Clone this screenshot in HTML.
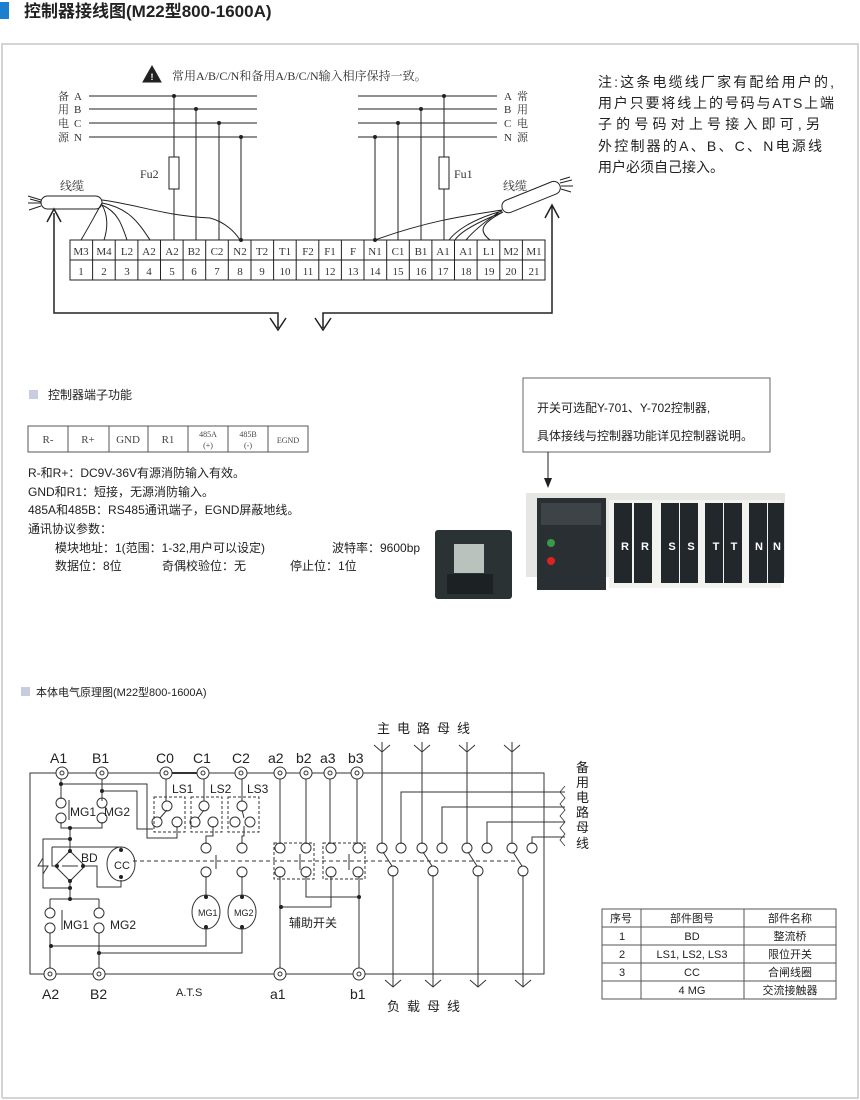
<!DOCTYPE html>
<html><head><meta charset="utf-8"><style>
body{margin:0;background:#fff}
svg{display:block}
.cn{font-family:"Liberation Sans","Noto Sans CJK SC",sans-serif}
.sf{font-family:"Liberation Serif","Noto Serif CJK SC",serif}
</style></head><body>
<svg width="860" height="1100" viewBox="0 0 860 1100" xmlns="http://www.w3.org/2000/svg" class="cn">
<!-- header -->
<rect x="0" y="2" width="9" height="17" fill="#1a7fd0"/>
<text x="24" y="17" font-size="17" font-weight="bold" fill="#222">控制器接线图(M22型800-1600A)</text>
<path d="M2 1098V44H858V1098H2" fill="none" stroke="#d4d4d4" stroke-width="2"/>

<g stroke="#222" stroke-width="1" fill="none">
<path d="M152 66L161 82H143Z" fill="#222"/>
<path d="M89 96H257M89 109H257M89 123H257M89 137H257M358 96H497M358 109H497M358 123H497M358 137H497"/>
<path d="M174 96V240M196 109V240M219 123V240M241 137V240"/>
<rect x="169" y="157" width="10" height="32" fill="#fff"/>
<path d="M375 137V240M398 123V240M421 109V240M444 96V240"/>
<rect x="439" y="157" width="10" height="32" fill="#fff"/>
<rect x="70" y="240" width="475" height="40"/>
<path d="M70 260H545"/>
<path d="M92.6 240V280M115.2 240V280M137.9 240V280M160.5 240V280M183.1 240V280M205.7 240V280M228.3 240V280M251 240V280M273.6 240V280M296.2 240V280M318.8 240V280M341.4 240V280M364 240V280M386.7 240V280M409.3 240V280M431.9 240V280M454.5 240V280M477.1 240V280M499.8 240V280M522.4 240V280"/>
<rect x="41" y="196" width="61" height="13" rx="6.5"/>
<path d="M41 200L28 196M41 203L28 203M41 206L29 210M41 202L30 199"/>
<path d="M102 203C95 215 90 225 81 240M102 205C108 215 108 228 104 240M102 205C118 212 122 225 127 240M102 203C130 208 140 225 150 240M102 200C140 205 160 215 210 218C225 222 235 232 240 240"/>
<g transform="rotate(-22 530 197)"><rect x="500" y="191" width="62" height="13" rx="6.5"/></g>
<path d="M560 183L572 180M561 186L573 186M561 189L571 192M560 180L570 177"/>
<path d="M502 210C470 215 430 220 375 240M502 210C490 218 476 228 466 240M503 212C478 222 460 232 455 240M503 212C478 225 480 232 490 240M502 211C470 220 455 232 449 240"/>
<path d="M54 213V313H278V328M270 318L278 330L286 318M47 222L54 209L61 222" stroke-width="1.5"/>
<path d="M552 205V313H323V328M315 318L323 330L331 318M545 218L552 205L559 218" stroke-width="1.5"/>
</g>
<g fill="#222">
<circle cx="174" cy="96" r="2"/><circle cx="196" cy="109" r="2"/><circle cx="219" cy="123" r="2"/><circle cx="241" cy="137" r="2"/>
<circle cx="375" cy="137" r="2"/><circle cx="398" cy="123" r="2"/><circle cx="421" cy="109" r="2"/><circle cx="444" cy="96" r="2"/>
<circle cx="241" cy="240" r="2"/><circle cx="375" cy="240" r="2"/>
</g>
<text x="152" y="80" font-size="9" fill="#fff" font-weight="bold" text-anchor="middle">!</text>
<text x="172" y="80" font-size="12" fill="#333" class="sf">常用A/B/C/N和备用A/B/C/N输入相序保持一致。</text>
<g font-size="11" fill="#333" class="sf">
<text x="58" y="100">备</text><text x="58" y="113">用</text><text x="58" y="127">电</text><text x="58" y="141">源</text>
<text x="74" y="100">A</text><text x="74" y="113">B</text><text x="74" y="127">C</text><text x="74" y="141">N</text>
<text x="504" y="100">A</text><text x="504" y="113">B</text><text x="504" y="127">C</text><text x="504" y="141">N</text>
<text x="517" y="100">常</text><text x="517" y="113">用</text><text x="517" y="127">电</text><text x="517" y="141">源</text>
<text x="140" y="178" font-size="12">Fu2</text><text x="454" y="178" font-size="12">Fu1</text>
<text x="60" y="190" font-size="12">线缆</text><text x="503" y="190" font-size="12">线缆</text>
</g>
<g font-size="11" fill="#333" class="sf" text-anchor="middle">
<text x="81" y="255">M3</text><text x="104" y="255">M4</text><text x="127" y="255">L2</text><text x="149" y="255">A2</text><text x="172" y="255">A2</text><text x="194" y="255">B2</text><text x="217" y="255">C2</text><text x="240" y="255">N2</text><text x="262" y="255">T2</text><text x="285" y="255">T1</text><text x="308" y="255">F2</text><text x="330" y="255">F1</text><text x="353" y="255">F</text><text x="375" y="255">N1</text><text x="398" y="255">C1</text><text x="421" y="255">B1</text><text x="443" y="255">A1</text><text x="466" y="255">A1</text><text x="489" y="255">L1</text><text x="511" y="255">M2</text><text x="534" y="255">M1</text>
<text x="81" y="275">1</text><text x="104" y="275">2</text><text x="127" y="275">3</text><text x="149" y="275">4</text><text x="172" y="275">5</text><text x="194" y="275">6</text><text x="217" y="275">7</text><text x="240" y="275">8</text><text x="262" y="275">9</text><text x="285" y="275">10</text><text x="308" y="275">11</text><text x="330" y="275">12</text><text x="353" y="275">13</text><text x="375" y="275">14</text><text x="398" y="275">15</text><text x="421" y="275">16</text><text x="443" y="275">17</text><text x="466" y="275">18</text><text x="489" y="275">19</text><text x="511" y="275">20</text><text x="534" y="275">21</text>
</g>
<g font-size="14" fill="#222">
<text x="598" y="87" textLength="236">注:这条电缆线厂家有配给用户的,</text>
<text x="598" y="108" textLength="236">用户只要将线上的号码与ATS上端</text>
<text x="598" y="129" textLength="222">子的号码对上号接入即可,另</text>
<text x="598" y="151" textLength="224">外控制器的A、B、C、N电源线</text>
<text x="598" y="172">用户必须自己接入。</text>
</g>

<!-- section 2 -->
<rect x="29" y="390" width="9" height="9" fill="#c8cce0"/>
<text x="48" y="399" font-size="12" fill="#222">控制器端子功能</text>
<g stroke="#555" fill="none"><rect x="28" y="426" width="280" height="26"/>
<path d="M68 426V452M109 426V452M148 426V452M188 426V452M228 426V452M268 426V452"/></g>
<g class="sf" fill="#444" text-anchor="middle" font-size="11">
<text x="48" y="443">R-</text><text x="88" y="443">R+</text><text x="128" y="443">GND</text><text x="168" y="443">R1</text>
<text x="208" y="437" font-size="8">485A</text><text x="208" y="448" font-size="8">(+)</text>
<text x="248" y="437" font-size="8">485B</text><text x="248" y="448" font-size="8">(-)</text>
<text x="288" y="443" font-size="8">EGND</text></g>
<g font-size="12" fill="#222">
<text x="28" y="477">R-和R+：DC9V-36V有源消防输入有效。</text>
<text x="28" y="496">GND和R1：短接，无源消防输入。</text>
<text x="28" y="514">485A和485B：RS485通讯端子，EGND屏蔽地线。</text>
<text x="28" y="533">通讯协议参数：</text>
<text x="55" y="552">模块地址：1(范围：1-32,用户可以设定)</text><text x="332" y="552">波特率：9600bp</text>
<text x="55" y="570">数据位：8位</text><text x="162" y="570">奇偶校验位：无</text><text x="290" y="570">停止位：1位</text>
</g>
<rect x="523" y="378" width="247" height="74" fill="#fff" stroke="#666"/>
<text x="537" y="412" font-size="12" fill="#222">开关可选配Y-701、Y-702控制器,</text>
<text x="537" y="440" font-size="12" fill="#222">具体接线与控制器功能详见控制器说明。</text>
<path d="M548 452V480" stroke="#222"/><path d="M544 478L548 488L552 478Z" fill="#222"/>
<!-- controller photo -->
<rect x="435" y="530" width="77" height="69" rx="3" fill="#2b3234"/>
<rect x="454" y="544" width="30" height="29" fill="#b9c2bd"/>
<rect x="447" y="574" width="46" height="20" fill="#1c2224"/>
<!-- ATS photo -->
<rect x="526" y="493" width="259" height="84" fill="#e6e6e2"/>
<rect x="537" y="498" width="69" height="92" fill="#2a2f33"/>
<rect x="541" y="503" width="60" height="22" fill="#3d4347"/>
<circle cx="551" cy="543" r="4" fill="#3a9a4a"/><circle cx="551" cy="561" r="4" fill="#d22"/>
<g fill="#f2f2ee"><rect x="609" y="500" width="172" height="88"/></g>
<g fill="#22272b"><rect x="614" y="503" width="18" height="80"/><rect x="634" y="503" width="18" height="80"/><rect x="661" y="503" width="18" height="80"/><rect x="680" y="503" width="18" height="80"/><rect x="705" y="503" width="18" height="80"/><rect x="724" y="503" width="18" height="80"/><rect x="749" y="503" width="18" height="80"/><rect x="768" y="503" width="16" height="80"/></g>
<g fill="#fff" font-size="11" font-weight="bold" text-anchor="middle"><text x="625" y="550">R</text><text x="645" y="550">R</text><text x="672" y="550">S</text><text x="691" y="550">S</text><text x="716" y="550">T</text><text x="734" y="550">T</text><text x="759" y="550">N</text><text x="777" y="550">N</text></g>

<!-- section 3 -->
<rect x="21" y="687" width="9" height="9" fill="#c8cce0"/>
<text x="36" y="696" font-size="11" fill="#222">本体电气原理图(M22型800-1600A)</text>
<g stroke="#333" fill="none" stroke-width="1">
<rect x="30" y="773" width="514" height="201"/>
<path d="M166 773H203" stroke-width="2"/>
<path d="M382 742V844M422 742V844M467 742V844M512 742V844M374 745L382 752L390 745M414 745L422 752L430 745M459 745L467 752L475 745M504 745L512 752L520 745"/>
<path d="M383 852L392 866M423 852L432 866M468 852L477 866M513 852L522 866"/>
<path d="M393 875V987M433 875V987M478 875V987M523 875V987M385 980L393 987L401 980M425 980L433 987L441 980M470 980L478 987L486 980M515 980L523 987L531 980"/>
<path d="M401 844V792H565M442 844V807H565M487 844V822H565M532 844V837H565"/>
<path d="M565 786L560 792L565 798L560 804L565 810L560 816L565 822L560 828L565 834L560 840L565 846" stroke-width="0.8"/>
<path d="M133 861H515" stroke-dasharray="4 3"/>
<path d="M280 778V844M306 778V844M330 778V844M357 778V844M280 876V968M306 876V897H359M331 876V907H281M359 876V968"/>
<path d="M300 854V870M349 854V870"/>
<rect x="274" y="843" width="40" height="36" stroke-dasharray="3 2"/><rect x="323" y="843" width="42" height="36" stroke-dasharray="3 2"/>
<rect x="154" y="797" width="31" height="35" stroke-dasharray="3 2"/><rect x="191" y="797" width="31" height="35" stroke-dasharray="3 2"/><rect x="228" y="797" width="31" height="35" stroke-dasharray="3 2"/>
<path d="M166 778V801M204 778V801M242 778V801"/>
<path d="M167 810L160 818M204 810L198 818M242 810L244 818"/>
<path d="M213 826V836H206V844M244 826V836H242V844M206 876V898M242 876V898M206 926V946H51M242 926V953H99"/>
<path d="M216 855V869"/>
<ellipse cx="206" cy="912" rx="14" ry="17"/><ellipse cx="242" cy="912" rx="14" ry="17"/>
<path d="M61 778V799M102 778V801M61 784H147V838H177V826M102 791H137V829H153"/>
<path d="M61 822V828H102V822M70 828V851M70 839H43V888H70V880"/>
<path d="M43 858L38 866H48L43 874"/>
<path d="M55 866L70 851L85 866L70 881Z"/>
<path d="M62 866H78M52 847H121V847M52 847V866H56M83 866H97V887H121V880M121 847V848"/>
<ellipse cx="121" cy="864" rx="14" ry="17"/>
<path d="M70 881V899M50 899H99M50 899V908M99 899V908M50 933V968M99 933V968M69 800V820M62 910V930"/>
</g>
<g fill="none" stroke="#333">
<circle cx="61" cy="803" r="5"/><circle cx="61" cy="818" r="5"/><circle cx="102" cy="803" r="5"/><circle cx="102" cy="818" r="5"/>
<circle cx="50" cy="913" r="5"/><circle cx="50" cy="928" r="5"/><circle cx="99" cy="913" r="5"/><circle cx="99" cy="928" r="5"/>
<circle cx="167" cy="806" r="5"/><circle cx="157" cy="822" r="5"/><circle cx="177" cy="822" r="5"/>
<circle cx="204" cy="806" r="5"/><circle cx="195" cy="822" r="5"/><circle cx="213" cy="822" r="5"/>
<circle cx="242" cy="806" r="5"/><circle cx="235" cy="822" r="5"/><circle cx="250" cy="822" r="5"/>
<circle cx="206" cy="848" r="5"/><circle cx="206" cy="872" r="5"/><circle cx="242" cy="848" r="5"/><circle cx="242" cy="872" r="5"/>
<circle cx="280" cy="848" r="5"/><circle cx="280" cy="872" r="5"/><circle cx="306" cy="848" r="5"/><circle cx="306" cy="872" r="5"/>
<circle cx="331" cy="848" r="5"/><circle cx="331" cy="872" r="5"/><circle cx="358" cy="848" r="5"/><circle cx="358" cy="872" r="5"/>
<circle cx="382" cy="848" r="5"/><circle cx="401" cy="848" r="5"/><circle cx="393" cy="871" r="5"/>
<circle cx="422" cy="848" r="5"/><circle cx="442" cy="848" r="5"/><circle cx="433" cy="871" r="5"/>
<circle cx="467" cy="848" r="5"/><circle cx="487" cy="848" r="5"/><circle cx="478" cy="871" r="5"/>
<circle cx="512" cy="848" r="5"/><circle cx="532" cy="848" r="5"/><circle cx="523" cy="871" r="5"/>
</g>
<g fill="#fff" stroke="#333">
<circle cx="62" cy="773" r="6"/><circle cx="102" cy="773" r="6"/><circle cx="166" cy="773" r="6"/><circle cx="203" cy="773" r="6"/><circle cx="241" cy="773" r="6"/><circle cx="280" cy="773" r="6"/><circle cx="306" cy="773" r="6"/><circle cx="330" cy="773" r="6"/><circle cx="357" cy="773" r="6"/>
<circle cx="50" cy="974" r="6"/><circle cx="99" cy="974" r="6"/><circle cx="280" cy="974" r="6"/><circle cx="359" cy="974" r="6"/>
</g>
<g fill="none" stroke="#333"><circle cx="62" cy="773" r="2"/><circle cx="102" cy="773" r="2"/><circle cx="166" cy="773" r="2"/><circle cx="203" cy="773" r="2"/><circle cx="241" cy="773" r="2"/><circle cx="280" cy="773" r="2"/><circle cx="306" cy="773" r="2"/><circle cx="330" cy="773" r="2"/><circle cx="357" cy="773" r="2"/><circle cx="50" cy="974" r="2"/><circle cx="99" cy="974" r="2"/><circle cx="280" cy="974" r="2"/><circle cx="359" cy="974" r="2"/></g>
<g fill="#222"><circle cx="61" cy="784" r="2"/><circle cx="102" cy="791" r="2"/><circle cx="70" cy="828" r="2"/><circle cx="70" cy="839" r="2"/><circle cx="70" cy="851" r="2"/><circle cx="57" cy="866" r="2"/><circle cx="83" cy="866" r="2"/><circle cx="70" cy="881" r="2"/><circle cx="70" cy="888" r="2"/><circle cx="70" cy="899" r="2"/><circle cx="121" cy="850" r="2"/><circle cx="121" cy="877" r="2"/><circle cx="51" cy="946" r="2"/><circle cx="99" cy="953" r="2"/><circle cx="206" cy="897" r="2"/><circle cx="206" cy="927" r="2"/><circle cx="242" cy="897" r="2"/><circle cx="242" cy="927" r="2"/><circle cx="281" cy="907" r="2"/><circle cx="359" cy="897" r="2"/></g>
<g font-size="14" fill="#222">
<text x="50" y="763">A1</text><text x="92" y="763">B1</text><text x="156" y="763">C0</text><text x="193" y="763">C1</text><text x="232" y="763">C2</text><text x="268" y="763">a2</text><text x="296" y="763">b2</text><text x="320" y="763">a3</text><text x="348" y="763">b3</text>
<text x="42" y="999">A2</text><text x="90" y="999">B2</text><text x="270" y="999">a1</text><text x="350" y="999">b1</text>
</g>
<g font-size="11" fill="#222">
<text x="172" y="793" font-size="12">LS1</text><text x="210" y="793" font-size="12">LS2</text><text x="247" y="793" font-size="12">LS3</text>
<text x="70" y="816" font-size="12">MG1</text><text x="104" y="816" font-size="12">MG2</text>
<text x="63" y="929" font-size="12">MG1</text><text x="110" y="929" font-size="12">MG2</text>
<text x="81" y="862" font-size="12">BD</text><text x="114" y="869" font-size="11">CC</text>
<text x="198" y="916" font-size="9">MG1</text><text x="234" y="916" font-size="9">MG2</text>
<text x="289" y="927" font-size="12">辅助开关</text>
<text x="176" y="996" font-size="11">A.T.S</text>
<text x="377" y="733" font-size="13" letter-spacing="7">主电路母线</text>
<text x="387" y="1011" font-size="13" letter-spacing="7">负载母线</text>
<g font-size="13"><text x="576" y="772">备</text><text x="576" y="787">用</text><text x="576" y="802">电</text><text x="576" y="817">路</text><text x="576" y="832">母</text><text x="576" y="848">线</text></g>
</g>
<g stroke="#555" fill="none"><rect x="602" y="909" width="234" height="90"/>
<path d="M641 909V999M744 909V999M602 927H836M602 945H836M602 963H836M602 981H836"/></g>
<g font-size="11" fill="#222" text-anchor="middle">
<text x="621" y="922">序号</text><text x="692" y="922">部件图号</text><text x="790" y="922">部件名称</text>
<text x="622" y="940">1</text><text x="692" y="940">BD</text><text x="790" y="940">整流桥</text>
<text x="622" y="958">2</text><text x="692" y="958">LS1, LS2, LS3</text><text x="790" y="958">限位开关</text>
<text x="622" y="976">3</text><text x="692" y="976">CC</text><text x="790" y="976">合闸线圈</text>
<text x="692" y="994">4 MG</text><text x="790" y="994">交流接触器</text>
</g>
</svg>
</body></html>
